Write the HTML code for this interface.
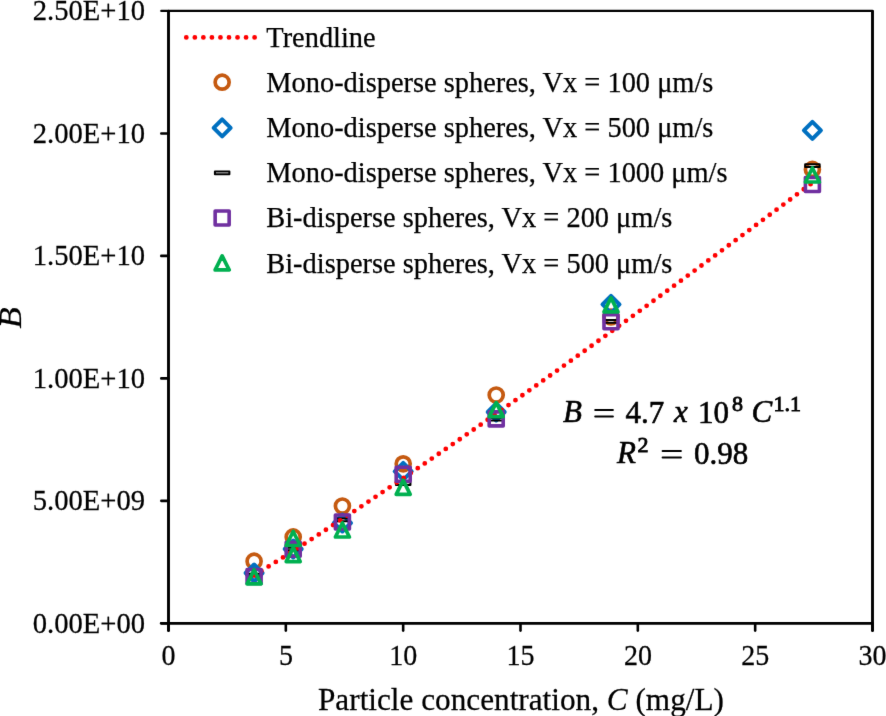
<!DOCTYPE html><html><head><meta charset="utf-8"><style>html,body{margin:0;padding:0;background:#fff;}svg{display:block;}text{font-family:"Liberation Serif",serif;fill:#000;stroke:#000;stroke-width:0.25px;} .eq text{stroke-width:0.6px;} .eq text.sup{stroke-width:0.85px;}</style></head><body>
<svg width="886" height="716" viewBox="0 0 886 716">
<defs><filter id="bl" filterUnits="userSpaceOnUse" x="0" y="0" width="886" height="716" color-interpolation-filters="sRGB"><feConvolveMatrix order="3" kernelMatrix="0.0053 0.0621 0.0053 0.0621 0.7303 0.0621 0.0053 0.0621 0.0053" edgeMode="duplicate"/></filter></defs>
<rect width="886" height="716" fill="#fff"/>
<g filter="url(#bl)">
<line x1="168.5" y1="10.95" x2="872.5" y2="10.95" stroke="#000" stroke-width="2.3" stroke-linecap="round"/>
<line x1="872.5" y1="11.4" x2="872.5" y2="630.6" stroke="#000" stroke-width="2.9" stroke-linecap="round"/>
<line x1="168.5" y1="11.4" x2="168.5" y2="630.6" stroke="#000" stroke-width="2.9" stroke-linecap="round"/>
<line x1="161.3" y1="623.3" x2="872.5" y2="623.3" stroke="#000" stroke-width="2.8" stroke-linecap="round"/>
<line x1="161.3" y1="623.30" x2="168.5" y2="623.30" stroke="#000" stroke-width="2.6" stroke-linecap="round"/>
<line x1="161.3" y1="500.84" x2="168.5" y2="500.84" stroke="#000" stroke-width="2.6" stroke-linecap="round"/>
<line x1="161.3" y1="378.38" x2="168.5" y2="378.38" stroke="#000" stroke-width="2.6" stroke-linecap="round"/>
<line x1="161.3" y1="255.92" x2="168.5" y2="255.92" stroke="#000" stroke-width="2.6" stroke-linecap="round"/>
<line x1="161.3" y1="133.46" x2="168.5" y2="133.46" stroke="#000" stroke-width="2.6" stroke-linecap="round"/>
<line x1="161.3" y1="10.95" x2="168.5" y2="10.95" stroke="#000" stroke-width="2.3" stroke-linecap="round"/>
<text transform="translate(145,632.60) scale(1,1.05)" font-size="28.6" text-anchor="end">0.00E+00</text>
<text transform="translate(145,510.14) scale(1,1.05)" font-size="28.6" text-anchor="end">5.00E+09</text>
<text transform="translate(145,387.68) scale(1,1.05)" font-size="28.6" text-anchor="end">1.00E+10</text>
<text transform="translate(145,265.22) scale(1,1.05)" font-size="28.6" text-anchor="end">1.50E+10</text>
<text transform="translate(145,142.76) scale(1,1.05)" font-size="28.6" text-anchor="end">2.00E+10</text>
<text transform="translate(145,20.30) scale(1,1.05)" font-size="28.6" text-anchor="end">2.50E+10</text>
<line x1="168.50" y1="623.3" x2="168.50" y2="630.6" stroke="#000" stroke-width="2.6" stroke-linecap="round"/>
<text transform="translate(168.60,665.4) scale(1,1.06)" font-size="28" text-anchor="middle">0</text>
<line x1="285.83" y1="623.3" x2="285.83" y2="630.6" stroke="#000" stroke-width="2.6" stroke-linecap="round"/>
<text transform="translate(285.93,665.4) scale(1,1.06)" font-size="28" text-anchor="middle">5</text>
<line x1="403.17" y1="623.3" x2="403.17" y2="630.6" stroke="#000" stroke-width="2.6" stroke-linecap="round"/>
<text transform="translate(403.27,665.4) scale(1,1.06)" font-size="28" text-anchor="middle">10</text>
<line x1="520.50" y1="623.3" x2="520.50" y2="630.6" stroke="#000" stroke-width="2.6" stroke-linecap="round"/>
<text transform="translate(520.60,665.4) scale(1,1.06)" font-size="28" text-anchor="middle">15</text>
<line x1="637.83" y1="623.3" x2="637.83" y2="630.6" stroke="#000" stroke-width="2.6" stroke-linecap="round"/>
<text transform="translate(637.93,665.4) scale(1,1.06)" font-size="28" text-anchor="middle">20</text>
<line x1="755.17" y1="623.3" x2="755.17" y2="630.6" stroke="#000" stroke-width="2.6" stroke-linecap="round"/>
<text transform="translate(755.27,665.4) scale(1,1.06)" font-size="28" text-anchor="middle">25</text>
<line x1="872.50" y1="623.3" x2="872.50" y2="630.6" stroke="#000" stroke-width="2.6" stroke-linecap="round"/>
<text transform="translate(872.60,665.4) scale(1,1.06)" font-size="28" text-anchor="middle">30</text>
<text transform="translate(318,709.5) scale(1,1.015)" font-size="31.25">Particle concentration, <tspan font-style="italic">C</tspan> (mg/L)</text>
<text transform="translate(21,318) rotate(-90) scale(1.12,1)" font-size="31" font-style="italic" text-anchor="middle">B</text>
<circle cx="254.1" cy="561.2" r="7" fill="none" stroke="#C55A11" stroke-width="3.7"/>
<circle cx="293.2" cy="536.9" r="7" fill="none" stroke="#C55A11" stroke-width="3.7"/>
<circle cx="342.4" cy="506" r="7" fill="none" stroke="#C55A11" stroke-width="3.7"/>
<circle cx="403.2" cy="463.8" r="7" fill="none" stroke="#C55A11" stroke-width="3.7"/>
<circle cx="496.2" cy="395" r="7" fill="none" stroke="#C55A11" stroke-width="3.7"/>
<circle cx="611.0" cy="317" r="7" fill="none" stroke="#C55A11" stroke-width="3.7"/>
<circle cx="812.4" cy="169.4" r="7" fill="none" stroke="#C55A11" stroke-width="3.7"/>
<path d="M254.1,564.5 L262.6,573 L254.1,581.5 L245.6,573 Z" fill="none" stroke="#0070C0" stroke-width="4.0" stroke-linejoin="round"/>
<path d="M293.2,540.5 L301.7,549 L293.2,557.5 L284.7,549 Z" fill="none" stroke="#0070C0" stroke-width="4.0" stroke-linejoin="round"/>
<path d="M342.4,514.5 L350.9,523 L342.4,531.5 L333.9,523 Z" fill="none" stroke="#0070C0" stroke-width="4.0" stroke-linejoin="round"/>
<path d="M403.2,462.8 L411.7,471.3 L403.2,479.8 L394.7,471.3 Z" fill="none" stroke="#0070C0" stroke-width="4.0" stroke-linejoin="round"/>
<path d="M496.2,403.5 L504.7,412 L496.2,420.5 L487.7,412 Z" fill="none" stroke="#0070C0" stroke-width="4.0" stroke-linejoin="round"/>
<path d="M611.0,295.9 L619.5,304.4 L611.0,312.9 L602.5,304.4 Z" fill="none" stroke="#0070C0" stroke-width="4.0" stroke-linejoin="round"/>
<path d="M812.4,121.9 L820.9,130.4 L812.4,138.9 L803.9,130.4 Z" fill="none" stroke="#0070C0" stroke-width="4.0" stroke-linejoin="round"/>
<rect x="246.85" y="573.65" width="14.5" height="2.7" fill="none" stroke="#000" stroke-width="2.0" stroke-linejoin="round"/>
<rect x="285.95" y="547.65" width="14.5" height="2.7" fill="none" stroke="#000" stroke-width="2.0" stroke-linejoin="round"/>
<rect x="335.15" y="518.45" width="14.5" height="2.7" fill="none" stroke="#000" stroke-width="2.0" stroke-linejoin="round"/>
<rect x="395.95" y="482.25" width="14.5" height="2.7" fill="none" stroke="#000" stroke-width="2.0" stroke-linejoin="round"/>
<rect x="488.95" y="417.85" width="14.5" height="2.7" fill="none" stroke="#000" stroke-width="2.0" stroke-linejoin="round"/>
<rect x="603.75" y="320.05" width="14.5" height="2.7" fill="none" stroke="#000" stroke-width="2.0" stroke-linejoin="round"/>
<rect x="805.15" y="164.25" width="14.5" height="2.7" fill="none" stroke="#000" stroke-width="2.0" stroke-linejoin="round"/>
<path d="M254.15,575.40 L255.55,574.54 L256.95,573.68 L258.35,572.82 L259.75,571.95 L261.15,571.08 L262.55,570.22 L263.95,569.35 L265.35,568.48 L266.75,567.60 L268.15,566.73 L269.54,565.86 L270.94,564.98 L272.34,564.10 L273.74,563.23 L275.14,562.35 L276.54,561.47 L277.94,560.59 L279.34,559.70 L280.74,558.82 L282.14,557.94 L283.54,557.05 L284.94,556.16 L286.33,555.27 L287.73,554.39 L289.13,553.50 L290.53,552.60 L291.93,551.71 L293.33,550.82 L294.73,549.92 L296.13,549.03 L297.53,548.13 L298.93,547.24 L300.33,546.34 L301.73,545.44 L303.12,544.54 L304.52,543.64 L305.92,542.74 L307.32,541.83 L308.72,540.93 L310.12,540.03 L311.52,539.12 L312.92,538.21 L314.32,537.31 L315.72,536.40 L317.12,535.49 L318.52,534.58 L319.91,533.67 L321.31,532.76 L322.71,531.85 L324.11,530.93 L325.51,530.02 L326.91,529.10 L328.31,528.19 L329.71,527.27 L331.11,526.35 L332.51,525.44 L333.91,524.52 L335.31,523.60 L336.70,522.68 L338.10,521.76 L339.50,520.83 L340.90,519.91 L342.30,518.99 L343.70,518.06 L345.10,517.14 L346.50,516.21 L347.90,515.29 L349.30,514.36 L350.70,513.43 L352.10,512.50 L353.49,511.58 L354.89,510.65 L356.29,509.72 L357.69,508.78 L359.09,507.85 L360.49,506.92 L361.89,505.99 L363.29,505.05 L364.69,504.12 L366.09,503.18 L367.49,502.25 L368.89,501.31 L370.29,500.37 L371.68,499.43 L373.08,498.50 L374.48,497.56 L375.88,496.62 L377.28,495.68 L378.68,494.73 L380.08,493.79 L381.48,492.85 L382.88,491.91 L384.28,490.96 L385.68,490.02 L387.08,489.08 L388.47,488.13 L389.87,487.18 L391.27,486.24 L392.67,485.29 L394.07,484.34 L395.47,483.39 L396.87,482.44 L398.27,481.49 L399.67,480.54 L401.07,479.59 L402.47,478.64 L403.87,477.69 L405.26,476.74 L406.66,475.79 L408.06,474.83 L409.46,473.88 L410.86,472.92 L412.26,471.97 L413.66,471.01 L415.06,470.06 L416.46,469.10 L417.86,468.14 L419.26,467.18 L420.66,466.22 L422.05,465.27 L423.45,464.31 L424.85,463.35 L426.25,462.39 L427.65,461.42 L429.05,460.46 L430.45,459.50 L431.85,458.54 L433.25,457.57 L434.65,456.61 L436.05,455.65 L437.45,454.68 L438.84,453.72 L440.24,452.75 L441.64,451.79 L443.04,450.82 L444.44,449.85 L445.84,448.88 L447.24,447.92 L448.64,446.95 L450.04,445.98 L451.44,445.01 L452.84,444.04 L454.24,443.07 L455.63,442.10 L457.03,441.12 L458.43,440.15 L459.83,439.18 L461.23,438.21 L462.63,437.23 L464.03,436.26 L465.43,435.29 L466.83,434.31 L468.23,433.34 L469.63,432.36 L471.03,431.38 L472.43,430.41 L473.82,429.43 L475.22,428.45 L476.62,427.48 L478.02,426.50 L479.42,425.52 L480.82,424.54 L482.22,423.56 L483.62,422.58 L485.02,421.60 L486.42,420.62 L487.82,419.64 L489.22,418.65 L490.61,417.67 L492.01,416.69 L493.41,415.71 L494.81,414.72 L496.21,413.74 L497.61,412.75 L499.01,411.77 L500.41,410.78 L501.81,409.80 L503.21,408.81 L504.61,407.83 L506.01,406.84 L507.40,405.85 L508.80,404.86 L510.20,403.88 L511.60,402.89 L513.00,401.90 L514.40,400.91 L515.80,399.92 L517.20,398.93 L518.60,397.94 L520.00,396.95 L521.40,395.96 L522.80,394.96 L524.19,393.97 L525.59,392.98 L526.99,391.99 L528.39,390.99 L529.79,390.00 L531.19,389.01 L532.59,388.01 L533.99,387.02 L535.39,386.02 L536.79,385.03 L538.19,384.03 L539.59,383.03 L540.98,382.04 L542.38,381.04 L543.78,380.04 L545.18,379.04 L546.58,378.05 L547.98,377.05 L549.38,376.05 L550.78,375.05 L552.18,374.05 L553.58,373.05 L554.98,372.05 L556.38,371.05 L557.77,370.05 L559.17,369.05 L560.57,368.04 L561.97,367.04 L563.37,366.04 L564.77,365.04 L566.17,364.03 L567.57,363.03 L568.97,362.03 L570.37,361.02 L571.77,360.02 L573.17,359.01 L574.57,358.01 L575.96,357.00 L577.36,355.99 L578.76,354.99 L580.16,353.98 L581.56,352.97 L582.96,351.97 L584.36,350.96 L585.76,349.95 L587.16,348.94 L588.56,347.93 L589.96,346.92 L591.36,345.92 L592.75,344.91 L594.15,343.90 L595.55,342.88 L596.95,341.87 L598.35,340.86 L599.75,339.85 L601.15,338.84 L602.55,337.83 L603.95,336.82 L605.35,335.80 L606.75,334.79 L608.15,333.78 L609.54,332.76 L610.94,331.75 L612.34,330.73 L613.74,329.72 L615.14,328.70 L616.54,327.69 L617.94,326.67 L619.34,325.66 L620.74,324.64 L622.14,323.62 L623.54,322.61 L624.94,321.59 L626.33,320.57 L627.73,319.55 L629.13,318.54 L630.53,317.52 L631.93,316.50 L633.33,315.48 L634.73,314.46 L636.13,313.44 L637.53,312.42 L638.93,311.40 L640.33,310.38 L641.73,309.36 L643.12,308.34 L644.52,307.32 L645.92,306.30 L647.32,305.27 L648.72,304.25 L650.12,303.23 L651.52,302.21 L652.92,301.18 L654.32,300.16 L655.72,299.13 L657.12,298.11 L658.52,297.09 L659.91,296.06 L661.31,295.04 L662.71,294.01 L664.11,292.98 L665.51,291.96 L666.91,290.93 L668.31,289.91 L669.71,288.88 L671.11,287.85 L672.51,286.83 L673.91,285.80 L675.31,284.77 L676.71,283.74 L678.10,282.71 L679.50,281.68 L680.90,280.66 L682.30,279.63 L683.70,278.60 L685.10,277.57 L686.50,276.54 L687.90,275.51 L689.30,274.47 L690.70,273.44 L692.10,272.41 L693.50,271.38 L694.89,270.35 L696.29,269.32 L697.69,268.28 L699.09,267.25 L700.49,266.22 L701.89,265.19 L703.29,264.15 L704.69,263.12 L706.09,262.08 L707.49,261.05 L708.89,260.02 L710.29,258.98 L711.68,257.95 L713.08,256.91 L714.48,255.87 L715.88,254.84 L717.28,253.80 L718.68,252.77 L720.08,251.73 L721.48,250.69 L722.88,249.66 L724.28,248.62 L725.68,247.58 L727.08,246.54 L728.47,245.50 L729.87,244.47 L731.27,243.43 L732.67,242.39 L734.07,241.35 L735.47,240.31 L736.87,239.27 L738.27,238.23 L739.67,237.19 L741.07,236.15 L742.47,235.11 L743.87,234.07 L745.26,233.03 L746.66,231.98 L748.06,230.94 L749.46,229.90 L750.86,228.86 L752.26,227.81 L753.66,226.77 L755.06,225.73 L756.46,224.69 L757.86,223.64 L759.26,222.60 L760.66,221.55 L762.05,220.51 L763.45,219.47 L764.85,218.42 L766.25,217.38 L767.65,216.33 L769.05,215.28 L770.45,214.24 L771.85,213.19 L773.25,212.15 L774.65,211.10 L776.05,210.05 L777.45,209.01 L778.85,207.96 L780.24,206.91 L781.64,205.86 L783.04,204.82 L784.44,203.77 L785.84,202.72 L787.24,201.67 L788.64,200.62 L790.04,199.57 L791.44,198.52 L792.84,197.47 L794.24,196.42 L795.64,195.37 L797.03,194.32 L798.43,193.27 L799.83,192.22 L801.23,191.17 L802.63,190.12 L804.03,189.07 L805.43,188.02 L806.83,186.96 L808.23,185.91 L809.63,184.86 L811.03,183.81 L812.43,182.75" fill="none" stroke="#FF0000" stroke-width="4.8" stroke-linecap="round" stroke-dasharray="0 8.505"/>
<rect x="247.1" y="569.5" width="14" height="14" fill="none" stroke="#7030A0" stroke-width="3.6" stroke-linejoin="round"/>
<rect x="286.2" y="542.3" width="14" height="14" fill="none" stroke="#7030A0" stroke-width="3.6" stroke-linejoin="round"/>
<rect x="335.4" y="515" width="14" height="14" fill="none" stroke="#7030A0" stroke-width="3.6" stroke-linejoin="round"/>
<rect x="396.2" y="467.3" width="14" height="14" fill="none" stroke="#7030A0" stroke-width="3.6" stroke-linejoin="round"/>
<rect x="489.2" y="411.9" width="14" height="14" fill="none" stroke="#7030A0" stroke-width="3.6" stroke-linejoin="round"/>
<rect x="604.0" y="314.8" width="14" height="14" fill="none" stroke="#7030A0" stroke-width="3.6" stroke-linejoin="round"/>
<rect x="805.4" y="177.5" width="14" height="14" fill="none" stroke="#7030A0" stroke-width="3.6" stroke-linejoin="round"/>
<path d="M254.1,569.8 L261.1,583.8 L247.1,583.8 Z" fill="none" stroke="#00B050" stroke-width="3.7" stroke-linejoin="round"/>
<path d="M293.2,531.5 L300.2,545.5 L286.2,545.5 Z" fill="none" stroke="#00B050" stroke-width="3.7" stroke-linejoin="round"/>
<path d="M293.2,547.6 L300.2,561.6 L286.2,561.6 Z" fill="none" stroke="#00B050" stroke-width="3.7" stroke-linejoin="round"/>
<path d="M342.4,523 L349.4,537 L335.4,537 Z" fill="none" stroke="#00B050" stroke-width="3.7" stroke-linejoin="round"/>
<path d="M403.2,480.3 L410.2,494.3 L396.2,494.3 Z" fill="none" stroke="#00B050" stroke-width="3.7" stroke-linejoin="round"/>
<path d="M496.2,402.7 L503.2,416.7 L489.2,416.7 Z" fill="none" stroke="#00B050" stroke-width="3.7" stroke-linejoin="round"/>
<path d="M611.0,297.9 L618.0,311.9 L604.0,311.9 Z" fill="none" stroke="#00B050" stroke-width="3.7" stroke-linejoin="round"/>
<path d="M812.4,168 L819.4,182 L805.4,182 Z" fill="none" stroke="#00B050" stroke-width="3.7" stroke-linejoin="round"/>
<path d="M186.3,37.4 L254.7,37.4" stroke="#FF0000" stroke-width="4.8" stroke-linecap="round" stroke-dasharray="0 8.5375"/>
<text x="266.3" y="47.1" font-size="28.4">Trendline</text>
<text x="266.3" y="92.2" font-size="28.4">Mono-disperse spheres, Vx = 100 μm/s</text>
<text x="266.3" y="137.3" font-size="28.4">Mono-disperse spheres, Vx = 500 μm/s</text>
<text x="266.3" y="182.3" font-size="28.4">Mono-disperse spheres, Vx = 1000 μm/s</text>
<text x="266.3" y="227.4" font-size="28.4">Bi-disperse spheres, Vx = 200 μm/s</text>
<text x="266.3" y="272.5" font-size="28.4">Bi-disperse spheres, Vx = 500 μm/s</text>
<circle cx="222.15" cy="82.15" r="7" fill="none" stroke="#C55A11" stroke-width="3.7"/>
<path d="M222.15,119.3 L230.65,127.8 L222.15,136.3 L213.65,127.8 Z" fill="none" stroke="#0070C0" stroke-width="4.0" stroke-linejoin="round"/>
<rect x="214.90" y="171.55" width="14.5" height="2.7" fill="none" stroke="#000" stroke-width="2.0" stroke-linejoin="round"/>
<rect x="215.15" y="211.0" width="14" height="14" fill="none" stroke="#7030A0" stroke-width="3.6" stroke-linejoin="round"/>
<path d="M222.15,255.95 L229.15,269.95 L215.15,269.95 Z" fill="none" stroke="#00B050" stroke-width="3.7" stroke-linejoin="round"/>
<g class="eq" font-size="31">
<text x="563.1" y="422.3" font-style="italic">B</text>
<path d="M595.2,410.1 H612.9 M595.2,416.5 H612.9" stroke="#000" stroke-width="2" stroke-linecap="round"/>
<text x="625.4" y="422.5">4.7</text>
<text x="674" y="422.3" font-style="italic">x</text>
<text x="698.1" y="422.5">10</text>
<text x="732.1" y="411" font-size="22" class="sup">8</text>
<text x="751.4" y="422.3" font-style="italic">C</text>
<text x="773.5" y="410.6" font-size="22" class="sup">1.1</text>
<text x="617" y="463.3" font-style="italic">R</text>
<text x="637.6" y="451.9" font-size="22" class="sup">2</text>
<path d="M662.6,451.1 H680.9 M662.6,457.5 H680.9" stroke="#000" stroke-width="2" stroke-linecap="round"/>
<text x="693.9" y="463.5">0.98</text>
</g>
</g></svg></body></html>
